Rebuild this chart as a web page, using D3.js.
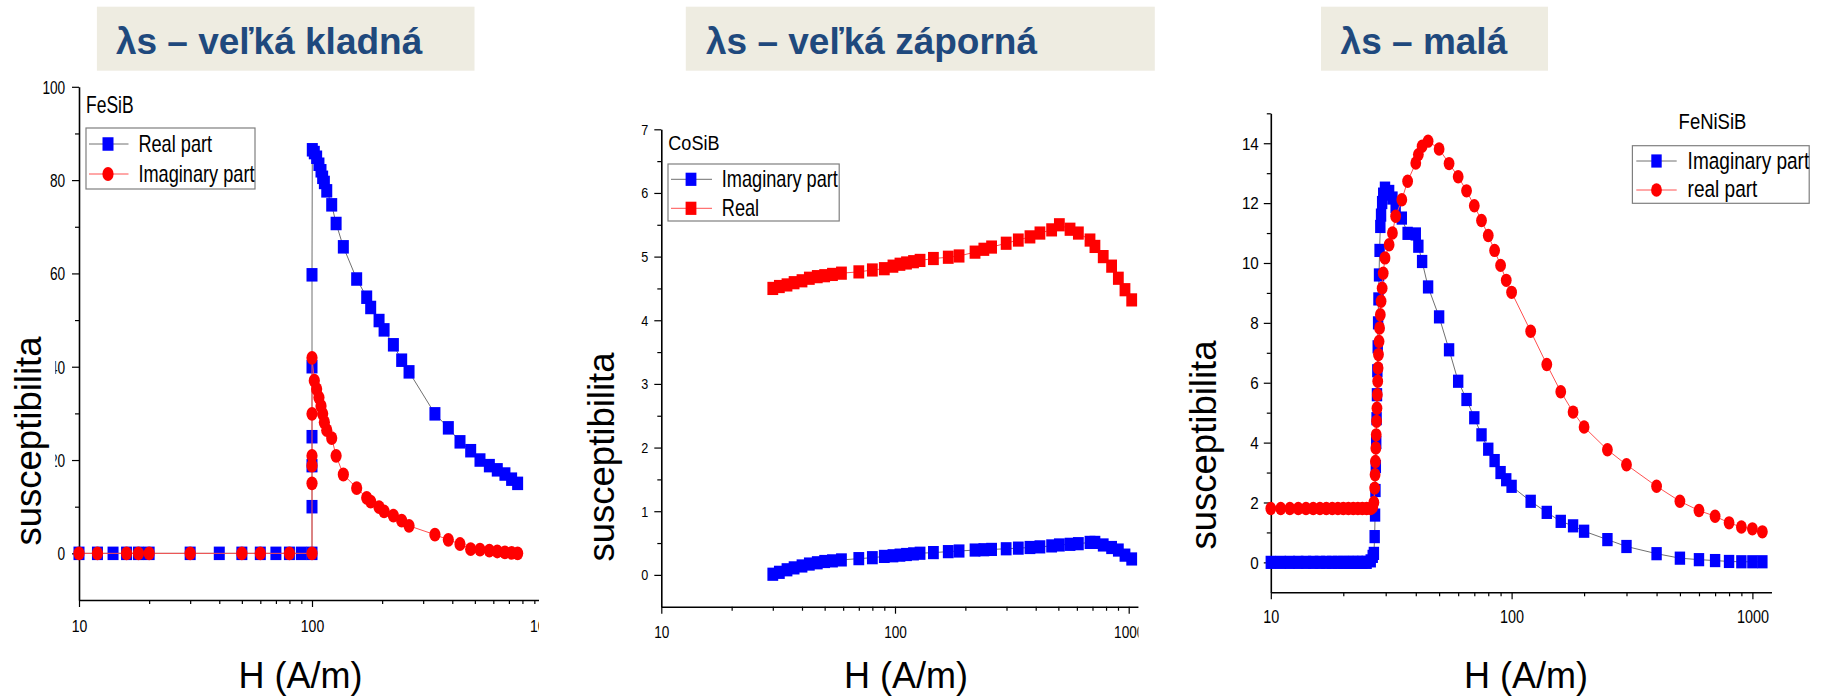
<!DOCTYPE html>
<html lang="sk">
<head>
<meta charset="utf-8">
<title>Susceptibilita</title>
<script src="https://cdn.jsdelivr.net/npm/d3@7/dist/d3.min.js"></script>
<style>
  html, body { margin: 0; padding: 0; background: #fff; }
  svg { display: block; }
</style>
</head>
<body>
<svg id="chart" width="1825" height="697"></svg>
<script>
// ---------- data ----------
const panelTitles = ["λs – veľká kladná", "λs – veľká záporná", "λs – malá"];
const sampleNames = ["FeSiB", "CoSiB", "FeNiSiB"];
const xTitle = "H (A/m)";
const yTitle = "susceptibilita";

const xMajorTicks = [10, 100, 1000];
const xMinorTicks = [20, 30, 40, 50, 60, 70, 80, 90, 200, 300, 400, 500, 600, 700, 800, 900];

// FeSiB
const fesibRealH = [10, 12, 14, 16, 18, 20, 30, 40, 50, 60, 70, 80, 90,
  100, 100, 100, 100, 100, 100,
  100.3, 102.3, 104.7, 107.1, 109.3, 111.1, 113, 115.7, 121.5, 126.9, 136.3, 155.5, 171.7, 178.6,
  194, 203.9, 223.5, 242.6, 260.9, 337, 384.7, 431.7, 479.8, 526, 577, 624, 673, 719, 763];
const fesibReal = [0, 0, 0, 0, 0, 0, 0, 0, 0, 0, 0, 0, 0,
  0, 10, 18.8, 25, 40, 59.7,
  86.5, 85.9, 84.9, 83.4, 82, 80.6, 79.5, 77.7, 74.7, 70.7, 65.7, 58.8, 54.9, 52.7,
  49.9, 47.9, 44.7, 41.4, 38.9, 29.9, 26.9, 23.9, 22, 20, 18.8, 17.9, 17, 15.9, 15];
const fesibImagH = [10, 12, 16, 18, 20, 30, 50, 60, 80,
  100, 100, 100, 100, 100, 100,
  102.3, 104.7, 107.1, 109.3, 111.1, 113, 115.7, 121.5, 126.9, 136.3, 155.5, 171.7, 178.6,
  194, 203.9, 223.5, 242.6, 260.9, 337, 384.7, 431.7, 479.8, 526, 577, 624, 673, 719, 763];
const fesibImag = [0, 0, 0, 0, 0, 0, 0, 0, 0,
  0, 15, 18.8, 20.9, 29.9, 41.9,
  37, 35.2, 33.4, 31.6, 29.9, 28.1, 26.4, 24.7, 20.9, 16.9, 14, 11.9, 11.1,
  9.9, 9, 8.1, 7, 5.9, 4, 2.9, 2, 0.9, 0.8, 0.6, 0.4, 0.2, 0.1, 0];
const fesibYTicks = [0, 20, 40, 60, 80, 100];
const fesibYMinor = [10, 30, 50, 70, 90];
const fesibLegend = ["Real part", "Imaginary part"];

// CoSiB
const cosibH = [30, 32, 34.5, 37, 40, 43, 46.5, 50, 54, 59,
  70, 80, 90, 98, 105, 112, 120, 128,
  146, 169, 188, 220, 240, 259, 299, 337, 378, 417, 468, 505,
  561, 609, 683, 717, 778, 845, 903, 964, 1030];
const cosibImag = [0.01, 0.04, 0.08, 0.11, 0.14, 0.17, 0.19, 0.21, 0.22, 0.235,
  0.255, 0.27, 0.29, 0.30, 0.31, 0.32, 0.33, 0.34,
  0.35, 0.365, 0.375, 0.39, 0.395, 0.40, 0.41, 0.42, 0.43, 0.44, 0.455, 0.47,
  0.48, 0.49, 0.51, 0.51, 0.47, 0.43, 0.39, 0.31, 0.25];
const cosibReal = [4.50, 4.53, 4.555, 4.59, 4.62, 4.66, 4.685, 4.70, 4.72, 4.74,
  4.76, 4.79, 4.81, 4.85, 4.88, 4.90, 4.92, 4.94,
  4.97, 4.99, 5.01, 5.07, 5.115, 5.15, 5.21, 5.26, 5.31, 5.37, 5.42, 5.50,
  5.43, 5.37, 5.26, 5.16, 5.00, 4.85, 4.66, 4.48, 4.32];
const cosibYTicks = [0, 1, 2, 3, 4, 5, 6, 7];
const cosibYMinor = [0.5, 1.5, 2.5, 3.5, 4.5, 5.5, 6.5];
const cosibLegend = ["Imaginary part", "Real"];

// FeNiSiB
const fenisibH = [10, 11, 12, 13, 14, 15, 16, 17, 18, 19, 20, 21, 22, 23, 24, 25, 26,
  26.5, 26.8, 27.0, 27.1, 27.2, 27.3, 27.4, 27.5, 27.6, 27.7, 27.8, 27.9, 28.0, 28.15, 28.3, 28.5, 28.7, 29.0, 29.3, 29.8,
  31, 32, 33, 35, 37, 40, 41, 42.5, 45,
  50, 55, 60, 65, 70, 75, 80, 85, 90, 95, 100,
  120, 140, 160, 180, 200, 250, 300, 400, 500, 600, 700, 800, 900, 1000, 1100];
const fenisibImag = [0, 0, 0, 0, 0, 0, 0, 0, 0, 0, 0, 0, 0, 0, 0, 0, 0.05,
  0.2, 0.3, 0.86, 1.58, 2.4, 3.2, 4.0, 4.8, 5.6, 6.4, 7.2, 8.0, 8.8, 9.6, 10.42, 11.22, 11.6, 12.02, 12.3, 12.5,
  12.39, 12.17, 11.89, 11.5, 10.99, 10.97, 10.56, 10.05, 9.2,
  8.2, 7.1, 6.05, 5.44, 4.83, 4.26, 3.78, 3.4, 3.0, 2.76, 2.54,
  2.04, 1.67, 1.37, 1.22, 1.04, 0.76, 0.53, 0.29, 0.14, 0.09, 0.06, 0.03, 0.02, 0.02, 0.02];
const fenisibReal = [1.8, 1.8, 1.8, 1.8, 1.8, 1.8, 1.8, 1.8, 1.8, 1.8, 1.8, 1.8, 1.8, 1.8, 1.8, 1.8, 1.8,
  1.85, 2.0, 2.48, 2.93, 3.37, 3.82, 4.26, 4.71, 5.15, 5.6, 6.05, 6.49, 6.94, 7.38, 7.83, 8.27, 8.72, 9.16, 9.66, 10.17,
  10.61, 11.0, 11.56, 12.11, 12.73, 13.34, 13.62, 13.9, 14.07,
  13.81, 13.32, 12.88, 12.41, 11.91, 11.42, 10.92, 10.42, 9.92, 9.42, 9.02,
  7.72, 6.61, 5.7, 5.02, 4.52, 3.76, 3.26, 2.54, 2.04, 1.73, 1.54, 1.32, 1.18, 1.12, 1.02];
const fenisibYTicks = [0, 2, 4, 6, 8, 10, 12, 14];
const fenisibYMinor = [1, 3, 5, 7, 9, 11, 13, 15];
const fenisibLegend = ["Imaginary part", "real part"];

// ---------- styling ----------
const FONT = "'Liberation Sans', Arial, Helvetica, sans-serif";
const BLUE = "#0000FF", RED = "#FF0000";
const GRAY_LINE = "#707070", RED_LINE = "#FF5050";

const svg = d3.select("#chart");
const defs = svg.append("defs");

const panels = [
  {
    key: "fesib", title: panelTitles[0], sample: sampleNames[0],
    titleBox: [96.9, 6.7, 474.5, 70.7], titleX: 115.9,
    xDomain: [10, 1000], x10: 79, decade: 233,
    yDomain: [-10, 100], yRange: [600, 86.8],
    clipRight: 539,
    yTicks: fesibYTicks, yMinor: fesibYMinor,
    yLab: { off: 13.8, size: 18, sx: 0.76 },
    xLab: { off: 32, size: 16.5, sx: 0.85 },
    sampleLab: { x: 86, y: 113.3, size: 23, sx: 0.76 },
    xTitleX: 300.5, yTitleX: 41, yTitleY: 441,
    cover: [0, 300, 55.3, 548],
    mk: { w: 11, h: 13.5, rx: 5.6, ry: 6.9 },
    series: [
      { h: fesibRealH, v: fesibReal, shape: "square", fill: BLUE, line: GRAY_LINE },
      { h: fesibImagH, v: fesibImag, shape: "circle", fill: RED, line: RED_LINE }
    ],
    legend: {
      box: [86, 128, 255, 189], line: [89, 128.5], symX: 108, rows: [144, 174],
      textX: 138.4, base: [151.7, 182.3], size: 23, sx: 0.79,
      labels: fesibLegend,
      items: [{ shape: "square", fill: BLUE, line: GRAY_LINE }, { shape: "circle", fill: RED, line: RED_LINE }]
    }
  },
  {
    key: "cosib", title: panelTitles[1], sample: sampleNames[1],
    titleBox: [685.8, 6.7, 1154.8, 70.7], titleX: 706,
    xDomain: [10, 1100], x10: 661.3, decade: 233.7,
    yDomain: [-0.5, 7], yRange: [606.7, 129.3],
    clipRight: 1138.5,
    yTicks: cosibYTicks, yMinor: cosibYMinor,
    yLab: { off: 13, size: 14, sx: 0.9 },
    xLab: { off: 31.5, size: 16, sx: 0.85 },
    sampleLab: { x: 668.3, y: 150, size: 21, sx: 0.86 },
    xTitleX: 906, yTitleX: 614, yTitleY: 457,
    cover: null,
    mk: { w: 10.8, h: 13.2, rx: 5.3, ry: 6.5 },
    series: [
      { h: cosibH, v: cosibImag, shape: "square", fill: BLUE, line: GRAY_LINE },
      { h: cosibH, v: cosibReal, shape: "square", fill: RED, line: RED_LINE }
    ],
    legend: {
      box: [668, 164, 839.2, 221], line: [671, 712], symX: 691, rows: [179.3, 208.3],
      textX: 721.8, base: [187, 216], size: 23, sx: 0.79,
      labels: cosibLegend,
      items: [{ shape: "square", fill: BLUE, line: GRAY_LINE }, { shape: "square", fill: RED, line: RED_LINE }]
    }
  },
  {
    key: "fenisib", title: panelTitles[2], sample: sampleNames[2],
    titleBox: [1321, 6.7, 1548, 70.7], titleX: 1340.6,
    xDomain: [10, 1200], x10: 1270.8, decade: 240.8,
    yDomain: [-1, 15], yRange: [592.3, 113.3],
    clipRight: 1825,
    yTicks: fenisibYTicks, yMinor: fenisibYMinor,
    yLab: { off: 12, size: 16, sx: 0.95 },
    xLab: { off: 30.7, size: 18, sx: 0.8 },
    sampleLab: { x: 1678.6, y: 129.3, size: 22, sx: 0.84 },
    xTitleX: 1526, yTitleX: 1216, yTitleY: 445,
    cover: null,
    mk: { w: 10.4, h: 13.2, rx: 5.4, ry: 6.7 },
    series: [
      { h: fenisibH, v: fenisibImag, shape: "square", fill: BLUE, line: GRAY_LINE },
      { h: fenisibH, v: fenisibReal, shape: "circle", fill: RED, line: RED_LINE }
    ],
    legend: {
      box: [1632.4, 145.7, 1809.2, 203.3], line: [1636.3, 1676.7], symX: 1656.5, rows: [161, 190],
      textX: 1687.6, base: [169, 197.3], size: 23.5, sx: 0.81,
      labels: fenisibLegend,
      items: [{ shape: "square", fill: BLUE, line: GRAY_LINE }, { shape: "circle", fill: RED, line: RED_LINE }]
    }
  }
];

// condensed text: drawn at origin, then moved and squeezed horizontally
function squeezedText(parent, str, x, y, size, sx, anchor) {
  return parent.append("text")
    .attr("transform", `translate(${x},${y}) scale(${sx},1)`)
    .attr("font-family", FONT)
    .attr("font-size", size)
    .attr("text-anchor", anchor || "start")
    .attr("fill", "#000")
    .text(str);
}

function marker(parent, shape, cx, cy, fill, mk) {
  if (shape === "square") {
    parent.append("rect")
      .attr("x", cx - mk.w / 2).attr("y", cy - mk.h / 2)
      .attr("width", mk.w).attr("height", mk.h)
      .attr("fill", fill);
  } else {
    parent.append("ellipse")
      .attr("cx", cx).attr("cy", cy)
      .attr("rx", mk.rx).attr("ry", mk.ry)
      .attr("fill", fill);
  }
}

function drawPanel(p) {
  const g = svg.append("g").attr("class", "panel-" + p.key);

  // heading box
  g.append("rect")
    .attr("x", p.titleBox[0]).attr("y", p.titleBox[1])
    .attr("width", p.titleBox[2] - p.titleBox[0])
    .attr("height", p.titleBox[3] - p.titleBox[1])
    .attr("fill", "#EEECE1");
  g.append("text")
    .attr("x", p.titleX).attr("y", 53.5)
    .attr("font-family", FONT).attr("font-weight", "bold")
    .attr("font-size", 37).attr("fill", "#1F497D")
    .text(p.title);

  const xRange = [p.x10, p.x10 + p.decade * Math.log10(p.xDomain[1] / p.xDomain[0])];
  const x = d3.scaleLog().domain(p.xDomain).range(xRange);
  const y = d3.scaleLinear().domain(p.yDomain).range(p.yRange);

  const clipId = "clip-" + p.key;
  defs.append("clipPath").attr("id", clipId)
    .append("rect").attr("x", 0).attr("y", 0)
    .attr("width", p.clipRight).attr("height", 697);
  const plot = g.append("g").attr("clip-path", `url(#${clipId})`);

  const yBase = p.yRange[0];

  // x axis: minor ticks, then major ticks with labels
  plot.append("g")
    .attr("transform", `translate(0,${yBase})`)
    .call(d3.axisBottom(x).tickValues(xMinorTicks).tickSize(4).tickSizeOuter(0).tickFormat(""))
    .call(a => a.select(".domain").remove())
    .call(a => a.selectAll("line").attr("stroke", "#000").attr("stroke-width", 1.2));
  const xa = plot.append("g")
    .attr("transform", `translate(0,${yBase})`)
    .call(d3.axisBottom(x).tickValues(xMajorTicks).tickSize(7).tickSizeOuter(0).tickFormat(d3.format("d")));
  xa.select(".domain").attr("stroke", "#000").attr("stroke-width", 1.6);
  xa.selectAll("line").attr("stroke", "#000").attr("stroke-width", 1.2);
  xa.selectAll("text")
    .attr("y", null).attr("dy", null)
    .attr("transform", `translate(0,${p.xLab.off}) scale(${p.xLab.sx},1)`)
    .attr("font-family", FONT).attr("font-size", p.xLab.size).attr("fill", "#000");

  // y axis
  plot.append("g")
    .attr("transform", `translate(${p.x10},0)`)
    .call(d3.axisLeft(y).tickValues(p.yMinor).tickSize(4).tickSizeOuter(0).tickFormat(""))
    .call(a => a.select(".domain").remove())
    .call(a => a.selectAll("line").attr("stroke", "#000").attr("stroke-width", 1.2));
  const ya = plot.append("g")
    .attr("transform", `translate(${p.x10},0)`)
    .call(d3.axisLeft(y).tickValues(p.yTicks).tickSize(7).tickSizeOuter(0).tickFormat(d3.format("d")));
  ya.select(".domain").attr("stroke", "#000").attr("stroke-width", 1.6);
  ya.selectAll("line").attr("stroke", "#000").attr("stroke-width", 1.2);
  ya.selectAll("text")
    .attr("x", null).attr("dy", "0.36em")
    .attr("transform", `translate(${-p.yLab.off},0) scale(${p.yLab.sx},1)`)
    .attr("font-family", FONT).attr("font-size", p.yLab.size).attr("fill", "#000");

  // series: connecting line first, then the symbols
  const line = d3.line().x(d => x(d[0])).y(d => y(d[1]));
  p.series.forEach(s => {
    const pts = d3.zip(s.h, s.v);
    plot.append("path").datum(pts)
      .attr("d", line).attr("fill", "none")
      .attr("stroke", s.line).attr("stroke-width", 1);
    const mg = plot.append("g");
    pts.forEach(d => marker(mg, s.shape, x(d[0]), y(d[1]), s.fill, p.mk));
  });

  // sample name and legend
  squeezedText(g, p.sample, p.sampleLab.x, p.sampleLab.y, p.sampleLab.size, p.sampleLab.sx);
  const L = p.legend;
  g.append("rect")
    .attr("x", L.box[0]).attr("y", L.box[1])
    .attr("width", L.box[2] - L.box[0]).attr("height", L.box[3] - L.box[1])
    .attr("fill", "#fff").attr("stroke", "#7f7f7f").attr("stroke-width", 1.2);
  L.items.forEach((it, i) => {
    g.append("line")
      .attr("x1", L.line[0]).attr("x2", L.line[1])
      .attr("y1", L.rows[i]).attr("y2", L.rows[i])
      .attr("stroke", it.line).attr("stroke-width", 1);
    marker(g, it.shape, L.symX, L.rows[i], it.fill, p.mk);
    squeezedText(g, L.labels[i], L.textX, L.base[i], L.size, L.sx);
  });

  // white label box of the vertical title overlaps the tick labels
  if (p.cover) {
    g.append("rect")
      .attr("x", p.cover[0]).attr("y", p.cover[1])
      .attr("width", p.cover[2] - p.cover[0]).attr("height", p.cover[3] - p.cover[1])
      .attr("fill", "#fff");
  }

  // axis titles
  g.append("text")
    .attr("x", p.xTitleX).attr("y", 688)
    .attr("text-anchor", "middle")
    .attr("font-family", FONT).attr("font-size", 36).attr("fill", "#000")
    .text(xTitle);
  g.append("text")
    .attr("transform", `translate(${p.yTitleX},${p.yTitleY}) rotate(-90)`)
    .attr("text-anchor", "middle")
    .attr("font-family", FONT).attr("font-size", 36.5).attr("fill", "#000")
    .text(yTitle);
}

panels.forEach(drawPanel);
</script>
</body>
</html>
